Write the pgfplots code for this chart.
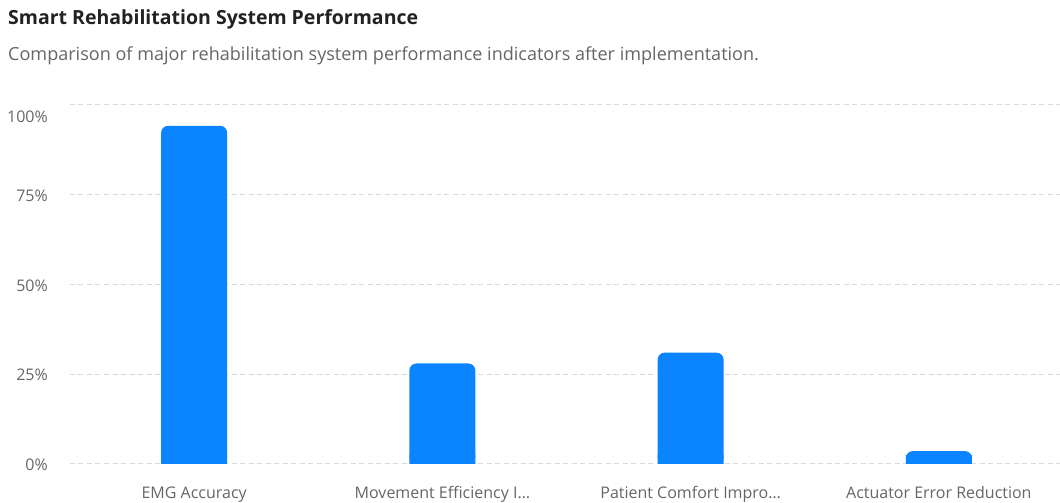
\documentclass[border=0pt]{standalone}
\usepackage{fontspec}
\setmainfont{Open Sans}
\usepackage{pgfplots}
\pgfplotsset{compat=1.18}
\usepackage{pgfplotstable}
\definecolor{barblue}{HTML}{0A84FF}
\definecolor{txtgray}{HTML}{666666}
\definecolor{gridgray}{HTML}{DADADA}
\definecolor{titleblack}{HTML}{222222}

\pgfplotstableread{
x v
0 94.2
1 28
2 31
3 3.6
}\datatable

\begin{document}
\begin{tikzpicture}[x=1pt,y=1pt]
\useasboundingbox (0,0) rectangle (1060,503);
\node[anchor=base west, inner sep=0pt, font={\fontsize{19.5}{24}\selectfont\bfseries}, text=titleblack] at (8,478) {Smart Rehabilitation System Performance};
\node[anchor=base west, inner sep=0pt, font={\fontsize{18.05}{21}\selectfont}, text=txtgray] at (8,442) {Comparison of major rehabilitation system performance indicators after implementation.};
\begin{axis}[
  xshift=70pt, yshift=39pt,
  scale only axis, width=993pt, height=359pt,
  xmin=-0.5, xmax=3.5, ymin=0, ymax=100,
  axis line style={draw=none},
  tick style={draw=none},
  ymajorgrids, grid style={gridgray, line width=1pt, dash pattern=on 5pt off 3.5pt},
  ytick={0,25,50,75,100},
  yticklabels={0\%,25\%,50\%,75\%,\raisebox{-11pt}{100\%}},
  yticklabel style={anchor=base east, inner sep=0pt, yshift=-6.7pt, text=txtgray, font=\fontsize{16}{19}\selectfont},
  yticklabel shift=22pt,
  xtick={0,1,2,3},
  xticklabels={EMG Accuracy, Movement Efficiency I…, Patient Comfort Impro…, Actuator Error Reduction},
  xticklabel style={anchor=base, inner sep=0pt, text=txtgray, font=\fontsize{16}{19}\selectfont},
  xticklabel shift=35pt,
  clip=false,
]
\addplot[ybar, bar width=66pt, bar shift=0pt, fill=barblue, draw=none, rounded corners=7pt] table[x=x,y=v]{\datatable};
\addplot[ybar, bar width=66pt, bar shift=0pt, fill=barblue, draw=none] table[x=x,y expr={min(\thisrow{v},2.5)}]{\datatable};
\end{axis}
\end{tikzpicture}
\end{document}
